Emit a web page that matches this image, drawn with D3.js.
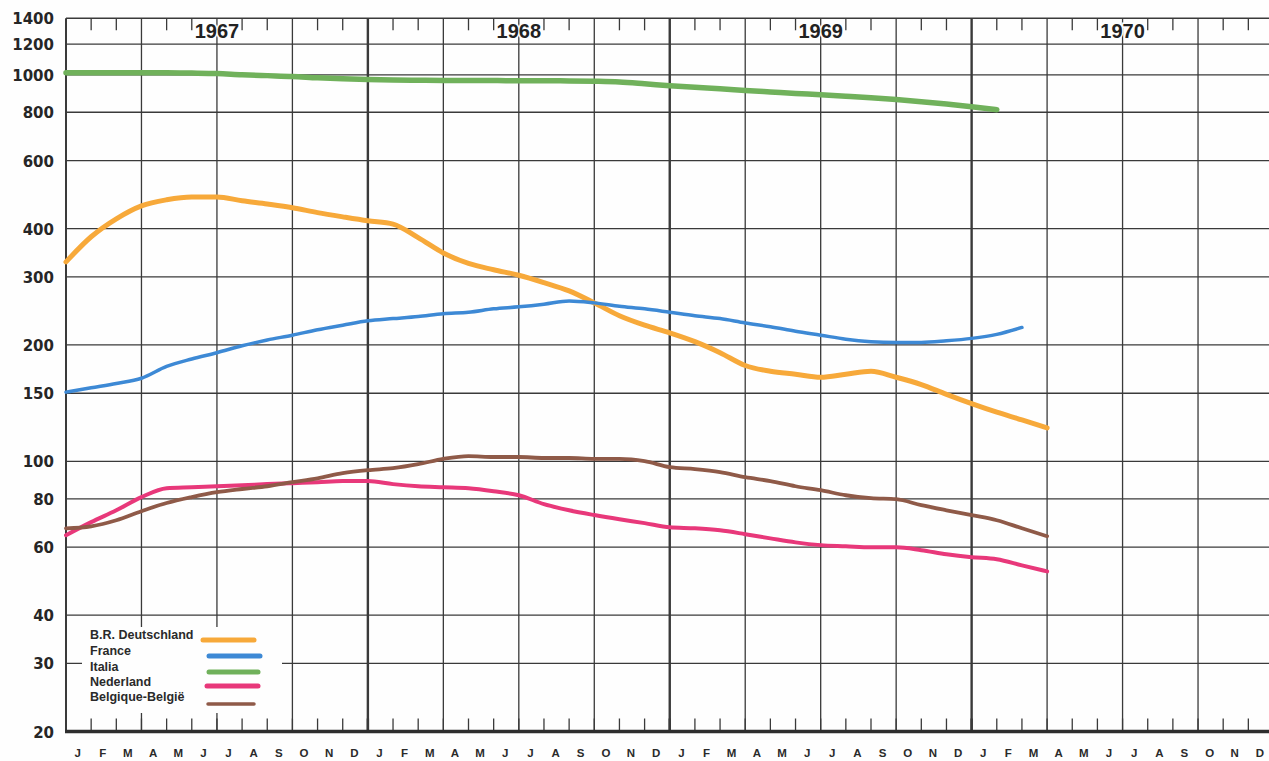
<!DOCTYPE html>
<html>
<head>
<meta charset="utf-8">
<script src="https://cdn.jsdelivr.net/npm/d3@7"></script>
<style>
  html, body { margin: 0; padding: 0; background: #fefefe; }
  svg { display: block; }
</style>
</head>
<body>
<svg id="chart" width="1269" height="761"></svg>
<script>
// ---- data (monthly from Jan 1967) ----
const monthLabels = ["J","F","M","A","M","J","J","A","S","O","N","D"];
const years = ["1967","1968","1969","1970"];
const yTicks = [20,30,40,60,80,100,150,200,300,400,600,800,1000,1200,1400];

const seriesNames = ["B.R. Deutschland","France","Italia","Nederland","Belgique-België"];
const seriesColors = ["#f7a93a","#3d89d5","#70b15b","#e8387a","#8f5a48"];
const seriesWidths = [5,3.5,5.5,4,3.8];

const deutschland = [328,381,424,458,475,483,483,472,463,453,440,429,419,411,379,346,325,313,303,290,276,257,238,225,215,204,191,177,171,168,165,168,171,165,158,149,141,134,128,122];
const france = [151,155,159,164,176,184,191,199,206,212,219,225,231,234,237,241,243,248,251,255,260,257,252,248,243,238,234,228,223,217,212,207,204,203,203,205,208,213,222];
const italia = [1012,1012,1012,1012,1012,1010,1007,1000,995,990,982,976,972,970,968,967,966,966,965,965,964,962,958,948,937,928,920,911,903,895,888,880,872,863,852,840,827,812];
const nederland = [64.4,69.6,74.7,80.8,85.2,85.7,86.2,86.7,87.3,87.8,88.3,88.9,88.9,87.3,86.2,85.7,85.2,83.7,81.7,77.5,74.7,72.6,70.8,69.2,67.5,67.1,66.3,64.8,63.2,61.7,60.7,60.3,59.9,59.9,58.9,57.5,56.5,55.8,53.8,51.9];
const belgique = [67.1,67.9,70.4,74.3,78.0,80.8,83.2,84.8,86.2,88.3,90.4,93.2,94.9,96.0,98.3,101.5,103.2,102.6,102.6,102,102,101.5,101.5,100.1,96.6,95.5,93.8,91.0,88.9,86.2,84.2,81.7,80.3,79.8,77.0,74.7,72.6,70.4,67.1,64.0];

const seriesData = [deutschland, france, italia, nederland, belgique];

// ---- layout ----
const svg = d3.select("#chart");
const x = d3.scaleLinear().domain([0, 48]).range([66, 1273.5]);
const y = d3.scaleLog().domain([20, 1400]).range([731.5, 18.3]);
const gridColor = "#3a3a3a";

// horizontal gridlines
svg.append("g").selectAll("line")
  .data(yTicks.filter(v => v !== 20 && v !== 1400))
  .join("line")
  .attr("x1", x(0)).attr("x2", 1269)
  .attr("y1", d => y(d)).attr("y2", d => y(d))
  .attr("stroke", gridColor).attr("stroke-width", 1.3);

// vertical quarter gridlines
const quarters = d3.range(3, 48, 3);
svg.append("g").selectAll("line")
  .data(quarters)
  .join("line")
  .attr("x1", d => x(d)).attr("x2", d => x(d))
  .attr("y1", y(1400)).attr("y2", y(20))
  .attr("stroke", gridColor)
  .attr("stroke-width", d => d % 12 === 0 ? 2.4 : 1.3);

// legend background covering grid
svg.append("rect")
  .attr("x", 82).attr("y", 627).attr("width", 200).attr("height", 86)
  .attr("fill", "#fefefe");

// month ticks top and bottom
const monthTicks = d3.range(1, 48).filter(m => m % 3 !== 0);
svg.append("g").selectAll("line")
  .data(monthTicks)
  .join("line")
  .attr("x1", d => x(d)).attr("x2", d => x(d))
  .attr("y1", y(1400)).attr("y2", y(1400) + 12)
  .attr("stroke", gridColor).attr("stroke-width", 1.3);
svg.append("g").selectAll("line")
  .data(d3.range(1, 48))
  .join("line")
  .attr("x1", d => x(d)).attr("x2", d => x(d))
  .attr("y1", y(20)).attr("y2", y(20) - 13)
  .attr("stroke", gridColor).attr("stroke-width", d => d % 12 === 0 ? 2.4 : 1.3);

// frame: top, left, bottom
svg.append("line").attr("x1", x(0)).attr("x2", 1269).attr("y1", y(1400)).attr("y2", y(1400))
  .attr("stroke", gridColor).attr("stroke-width", 1.5);
svg.append("line").attr("x1", x(0)).attr("x2", x(0)).attr("y1", y(1400)).attr("y2", y(20))
  .attr("stroke", gridColor).attr("stroke-width", 2);
svg.append("line").attr("x1", x(0) - 1).attr("x2", 1269).attr("y1", y(20)).attr("y2", y(20))
  .attr("stroke", "#2e2e2e").attr("stroke-width", 3.5);

// y labels
svg.append("g").selectAll("text")
  .data(yTicks)
  .join("text")
  .attr("x", 54).attr("y", d => y(d) + 1.5)
  .attr("text-anchor", "end").attr("dominant-baseline", "middle")
  .attr("font-family", "DejaVu Sans").attr("font-weight", "bold")
  .attr("font-size", 15).attr("fill", "#262626")
  .text(d => d);

// month labels
const allMonths = d3.range(48);
svg.append("g").selectAll("text")
  .data(allMonths)
  .join("text")
  .attr("x", d => x(d + 0.5) - 1).attr("y", 757)
  .attr("text-anchor", "middle")
  .attr("font-family", "Liberation Sans").attr("font-weight", "bold")
  .attr("font-size", 11.5).attr("fill", "#2a2a2a")
  .text(d => monthLabels[d % 12]);

// series lines
const line = d3.line()
  .x((d, i) => x(i))
  .y(d => y(d))
  .curve(d3.curveMonotoneX);
svg.append("g").selectAll("path")
  .data(seriesData)
  .join("path")
  .attr("d", d => line(d))
  .attr("fill", "none")
  .attr("stroke", (d, i) => seriesColors[i])
  .attr("stroke-width", (d, i) => seriesWidths[i])
  .attr("stroke-linecap", "round")
  .attr("stroke-linejoin", "round");

// year labels with white halo
svg.append("g").selectAll("text")
  .data(years)
  .join("text")
  .attr("x", (d, i) => x(i * 12 + 6))
  .attr("y", 38)
  .attr("text-anchor", "middle")
  .attr("font-family", "Liberation Sans").attr("font-weight", "bold")
  .attr("font-size", 20).attr("fill", "#222")
  .attr("stroke", "#fefefe").attr("stroke-width", 3)
  .attr("paint-order", "stroke")
  .text(d => d);

// legend
const legendY = [639, 655, 670.5, 685.5, 700.5];
const swatch = [[203,254,640],[209,260,656],[209,258,672],[207,258,686],[208,254,704]];
const lg = svg.append("g");
lg.selectAll("text")
  .data(seriesNames)
  .join("text")
  .attr("x", 90).attr("y", (d, i) => legendY[i])
  .attr("font-family", "Liberation Sans").attr("font-weight", "bold")
  .attr("font-size", 12.5).attr("fill", "#2a2a2a")
  .text(d => d);
lg.selectAll("line")
  .data(seriesNames)
  .join("line")
  .attr("x1", (d, i) => swatch[i][0]).attr("x2", (d, i) => swatch[i][1])
  .attr("y1", (d, i) => swatch[i][2]).attr("y2", (d, i) => swatch[i][2])
  .attr("stroke", (d, i) => seriesColors[i])
  .attr("stroke-width", (d, i) => i === 4 ? 3.5 : 5)
  .attr("stroke-linecap", "round");
</script>
</body>
</html>
